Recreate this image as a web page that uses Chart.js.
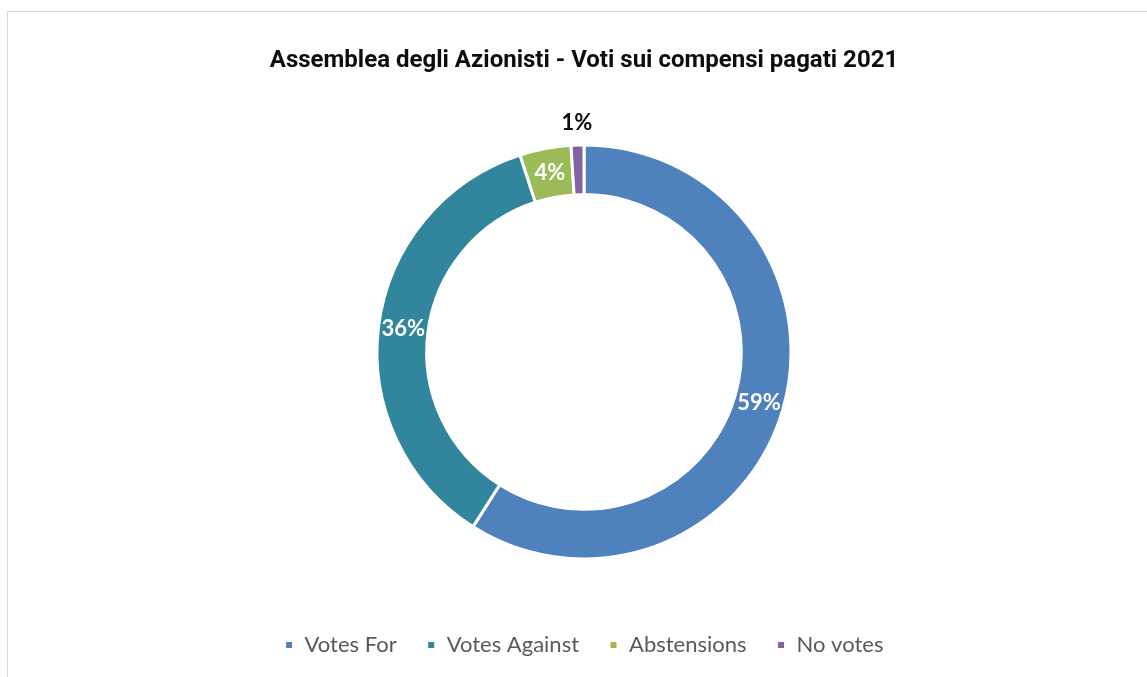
<!DOCTYPE html>
<html>
<head>
<meta charset="utf-8">
<title>Voti sui compensi pagati 2021</title>
<script src="https://cdn.jsdelivr.net/npm/chart.js@4.4.1/dist/chart.umd.min.js"></script>
<style>
  html, body { margin: 0; padding: 0; background: #fff; }
  #wrap { position: relative; width: 1147px; height: 677px; overflow: hidden; }
  #frame { position: absolute; left: 7px; top: 11px; right: -2px; bottom: -2px;
           border-left: 1px solid #d9d9d9; border-top: 1px solid #d9d9d9; }
  #chart { position: absolute; left: 0; top: 0; }
</style>
</head>
<body>
<div id="wrap">
  <div id="frame"></div>
  <canvas id="chart" width="1147" height="677"></canvas>
</div>
<script>
// Shareholder meeting vote split
const categories = ['Votes For', 'Votes Against', 'Abstensions', 'No votes'];
const votes = [59, 36, 4, 1];
const colors = ['#4f81bd', '#31859c', '#9bbb59', '#8064a2'];

// white percentage labels on the ring, tiny slices get a dark label outside
const sliceLabels = {
  id: 'sliceLabels',
  afterDatasetsDraw(chart) {
    const ctx = chart.ctx;
    const meta = chart.getDatasetMeta(0);
    const total = votes.reduce((a, b) => a + b, 0);
    ctx.save();
    ctx.font = 'bold 22px Lato';
    ctx.textAlign = 'center';
    ctx.textBaseline = 'middle';
    meta.data.forEach((arc, i) => {
      const p = arc.getProps(['x', 'y', 'startAngle', 'endAngle', 'innerRadius', 'outerRadius'], true);
      const mid = (p.startAngle + p.endAngle) / 2;
      const pct = Math.round(votes[i] / total * 100) + '%';
      let r = (p.innerRadius + p.outerRadius) / 2;
      if (votes[i] / total < 0.02) {
        r = p.outerRadius + 22;
        ctx.fillStyle = '#0d0d0d';
      } else {
        ctx.fillStyle = '#ffffff';
      }
      ctx.fillText(pct, p.x + Math.cos(mid) * r, p.y + Math.sin(mid) * r);
    });
    ctx.restore();
  }
};

new Chart(document.getElementById('chart'), {
  type: 'doughnut',
  data: {
    labels: categories,
    datasets: [{
      data: votes,
      backgroundColor: colors,
      borderColor: '#ffffff',
      borderWidth: 3
    }]
  },
  options: {
    responsive: false,
    animation: false,
    cutout: '76%',
    radius: 207,
    layout: { padding: { left: 21, right: 0, top: 0, bottom: 11 } },
    plugins: {
      title: {
        display: true,
        text: 'Assemblea degli Azionisti - Voti sui compensi pagati 2021',
        color: '#0d0d0d',
        font: { family: 'Roboto', size: 24, weight: 'bold', lineHeight: 1.2 },
        padding: { top: 47, bottom: 24 }
      },
      legend: {
        position: 'bottom',
        labels: {
          color: '#595959',
          font: { family: 'Lato', size: 22 },
          boxWidth: 9,
          boxHeight: 9,
          padding: 30
        }
      },
      tooltip: { enabled: false }
    }
  },
  plugins: [sliceLabels]
});
</script>
</body>
</html>
